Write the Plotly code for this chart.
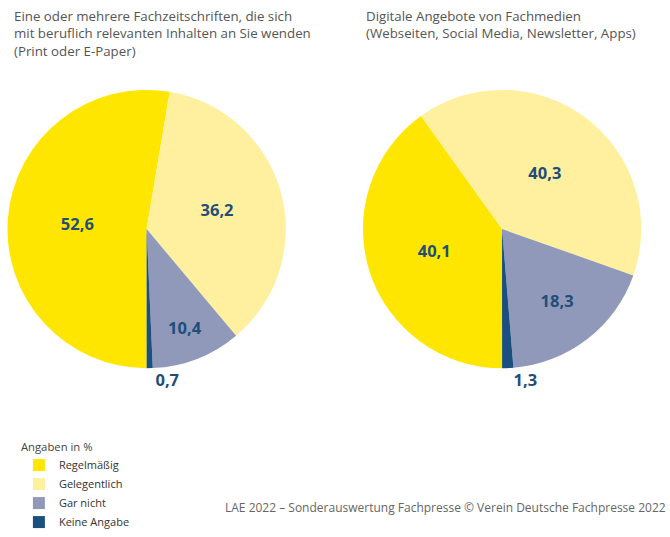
import plotly.graph_objects as go

categories = ["Regelmäßig", "Gelegentlich", "Gar nicht", "Keine Angabe"]
print_values = [52.6, 36.2, 10.4, 0.7]
digital_values = [40.1, 40.3, 18.3, 1.3]
titles = ["Eine oder mehrere Fachzeitschriften, die sich<br>mit beruflich relevanten Inhalten an Sie wenden<br>(Print oder E-Paper)",
          "Digitale Angebote von Fachmedien<br>(Webseiten, Social Media, Newsletter, Apps)"]
colors = ["#FFE600", "#FFF0A0", "#9199BA", "#1B4F80"]
label_color = "#1F4E79"
FONT = "Open Sans"

def fmt(v):
    return f"{v:.1f}".replace(".", ",")

fig = go.Figure()
for vals, dom, show in [(print_values, [0.0015, 0.4245], True), (digital_values, [0.536, 0.959], False)]:
    fig.add_trace(go.Pie(
        labels=categories, values=vals, sort=False, direction="clockwise", rotation=180,
        marker=dict(colors=colors, line=dict(width=0)),
        text=[fmt(v) for v in vals], textinfo="text",
        textposition=["inside", "inside", "inside", "outside"],
        insidetextorientation="horizontal",
        textfont=dict(family=FONT, size=16.5, color=label_color, weight="bold"),
        domain=dict(x=dom, y=[0.2905, 0.8268]),
        hoverinfo="label+value", showlegend=show,
    ))

fig.add_annotation(text=titles[0], x=7/670, y=1-5/537, xref="paper", yref="paper",
                   xanchor="left", yanchor="top", align="left", showarrow=False,
                   font=dict(family=FONT, size=13.3, color="#555555"))
fig.add_annotation(text=titles[1], x=362/670, y=1-5/537, xref="paper", yref="paper",
                   xanchor="left", yanchor="top", align="left", showarrow=False,
                   font=dict(family=FONT, size=13.3, color="#555555"))
fig.add_annotation(text="LAE 2022 – Sonderauswertung Fachpresse © Verein Deutsche Fachpresse 2022",
                   x=1-2/670, y=1/537, xref="paper", yref="paper", xanchor="right", yanchor="bottom",
                   showarrow=False, font=dict(family=FONT, size=12, color="#666666"))

fig.update_layout(
    width=670, height=537, margin=dict(l=0, r=0, t=0, b=0),
    paper_bgcolor="white", plot_bgcolor="white",
    legend=dict(x=14/670, y=1-451/537, xanchor="left", yanchor="top",
                title=dict(text="Angaben in %", font=dict(family=FONT, size=11.3, color="#444444")),
                font=dict(family=FONT, size=11, color="#333333"),
                itemwidth=30, tracegroupgap=0),
)
fig.write_html("out.html")
